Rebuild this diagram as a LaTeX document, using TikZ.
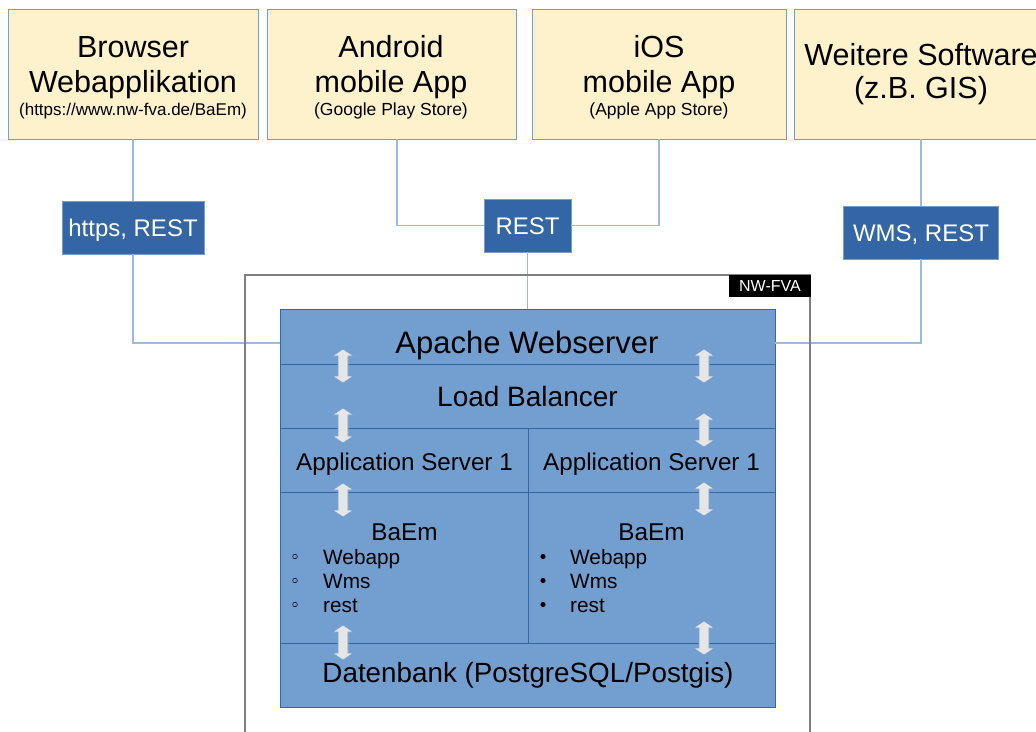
\documentclass[tikz,border=0pt]{standalone}
\usepackage{fontspec}
\setmainfont{Liberation Sans}
\definecolor{topfill}{HTML}{FDF2CC}
\definecolor{lightblue}{HTML}{729FCF}
\definecolor{darkblue}{HTML}{3465A4}
\definecolor{conn}{HTML}{9DB9E0}
\definecolor{framegray}{HTML}{7F7F7F}
\definecolor{arrfill}{HTML}{E6E6E6}
\newcommand{\fs}[1]{\fontsize{#1}{#1}\selectfont}
\newcommand{\dblarr}[3]{%
  \filldraw[arrsty] (#1,#2) -- ({#1+10.5},{#2+7}) -- ({#1+5},{#2+7}) -- ({#1+5},{#3-7}) -- ({#1+10.5},{#3-7}) -- (#1,#3) -- ({#1-10.5},{#3-7}) -- ({#1-5},{#3-7}) -- ({#1-5},{#2+7}) -- ({#1-10.5},{#2+7}) -- cycle;}
\tikzset{
  topbox/.style={draw=lightblue, line width=0.9pt, fill=topfill, minimum height=130pt, inner sep=0pt},
  labbox/.style={draw=lightblue, line width=0.8pt, fill=darkblue, text=white, font=\fs{24}, minimum height=53pt, inner sep=0pt, text height=17.2pt, text depth=0pt},
  row/.style={draw=darkblue, line width=0.8pt, fill=lightblue, inner sep=0pt},
  conline/.style={draw=conn, line width=1.2pt},
  arrsty/.style={fill=arrfill, draw=lightblue, line width=0.6pt},
  txt/.style={anchor=base, inner sep=0pt},
}
\begin{document}
\begin{tikzpicture}[x=1pt, y=-1pt]
\useasboundingbox (0,0) rectangle (1036,731);

% top boxes
\node[topbox, minimum width=250pt] (b1) at (133,74) {};
\node[topbox, minimum width=249pt] (b2) at (391.5,74) {};
\node[topbox, minimum width=254pt] (b3) at (659,74) {};
\node[topbox, minimum width=254pt] (b4) at (921,74) {};

\node[txt, font=\fs{30.5}] (b1t1) at (133,57) {Browser};
\node[txt, font=\fs{30.5}] (b1t2) at (133,92) {Webapplikation};
\node[txt, font=\fs{17}] (b1t3) at (133,115) {(https://www.nw-fva.de/BaEm)};

\node[txt, font=\fs{30.5}] (b2t1) at (391,57) {Android};
\node[txt, font=\fs{30.5}] (b2t2) at (391,92) {mobile App};
\node[txt, font=\fs{17.5}] (b2t3) at (391,115) {(Google Play Store)};

\node[txt, font=\fs{30.5}] (b3t1) at (659,57) {iOS};
\node[txt, font=\fs{30.5}] (b3t2) at (659,92) {mobile App};
\node[txt, font=\fs{17.5}] (b3t3) at (659,115) {(Apple App Store)};

\node[txt, font=\fs{30.5}] (b4t1) at (921,65) {Weitere Software};
\node[txt, font=\fs{30.5}] (b4t2) at (921,98) {(z.B. GIS)};

% label boxes
\node[labbox, minimum width=142pt] (lab1) at (133,227.5) {https, REST};
\node[labbox, minimum width=87pt] (rest) at (527.5,225.5) {REST};
\node[labbox, minimum width=155pt] (lab4) at (921,232.5) {WMS, REST};

% main block
\node[row, minimum width=495pt, minimum height=55pt] (apache) at (527.5,336.5) {};
\node[row, minimum width=495pt, minimum height=64pt] (lb) at (527.5,396) {};
\node[row, minimum width=248pt, minimum height=64pt] (as1) at (404,460) {};
\node[row, minimum width=247pt, minimum height=64pt] (as2) at (651.5,460) {};
\node[row, minimum width=248pt, minimum height=151pt] (baem1) at (404,567.5) {};
\node[row, minimum width=247pt, minimum height=151pt] (baem2) at (651.5,567.5) {};
\node[row, minimum width=495pt, minimum height=64pt] (db) at (527.5,675) {};

\coordinate (ljoin) at (280,343);
\coordinate (rjoin) at (775,343);

% connectors
\draw[conline] (b1.south) -- (lab1.north);
\draw[conline] (lab1.south) |- (ljoin);
\draw[conline] ([xshift=5.5pt]b2.south) |- (rest.west);
\draw[conline] (b3.south) |- (rest.east);
\draw[conline] (rest.south) -- (rest.south |- apache.north);
\draw[conline] (b4.south) -- (lab4.north);
\draw[conline] (lab4.south) |- (rjoin);

% NW-FVA frame
\draw[framegray, line width=1.5pt] (245,745) -- (245,275) -- (810,275) -- (810,745);
\node[fill=black, text=white, font=\fs{16}, minimum width=82pt, minimum height=22pt, inner sep=0pt, text height=11.5pt, text depth=0pt] (nwfva) at (770,286) {NW-FVA};

% texts in block
\node[txt, font=\fs{31}] (tapache) at (527,353) {Apache Webserver};
\node[txt, font=\fs{28}] (tlb) at (527.5,406) {Load Balancer};
\node[txt, font=\fs{24.2}] (tas1) at (404.5,470) {Application Server 1};
\node[txt, font=\fs{24.2}] (tas2) at (651.5,470) {Application Server 1};
\node[txt, font=\fs{24.3}] (tbaem1) at (404.5,540.5) {BaEm};
\node[txt, font=\fs{24.3}] (tbaem2) at (651.5,540.5) {BaEm};
\node[txt, font=\fs{27.8}] (tdb) at (528,682.5) {Datenbank (PostgreSQL/Postgis)};

% bullet lists
\foreach \y/\t [count=\i] in {564/Webapp, 588/Wms, 612/rest}{
  \node[txt, anchor=base west, font=\fs{20.8}] (l\i) at (323,\y) {\t};
  \node[txt, anchor=base west, font=\fs{20.8}] (r\i) at (570,\y) {\t};
  \draw[black, line width=0.5pt] (295,\y-7.5) circle (2.3pt);
  \fill[black] (543,\y-7.5) circle (2.6pt);
}

% double arrows
\dblarr{343}{349}{383}
\dblarr{343}{408}{443}
\dblarr{343}{483}{517}
\dblarr{343}{625}{660}
\dblarr{704}{349}{383}
\dblarr{704}{413}{447}
\dblarr{704}{482}{516}
\dblarr{704}{621}{655}
\end{tikzpicture}
\end{document}
